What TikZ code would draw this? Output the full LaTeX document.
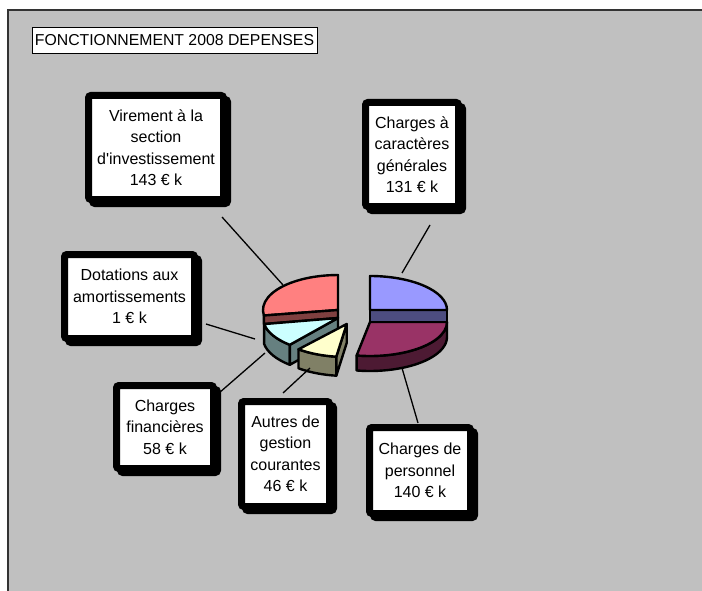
\documentclass[tikz,border=0pt]{standalone}
\usepackage{fontspec}
\setmainfont{Liberation Sans}
\newfontfamily\lbfont{Liberation Sans}
\usetikzlibrary{shadows}
\definecolor{bggray}{HTML}{C0C0C0}
\definecolor{redtop}{HTML}{FF8080}
\definecolor{redside}{HTML}{804040}
\definecolor{cyantop}{HTML}{CCFFFF}
\definecolor{cyanside}{HTML}{668080}
\definecolor{yeltop}{HTML}{FFFFCC}
\definecolor{yelside}{HTML}{808066}
\definecolor{bluetop}{HTML}{9999FF}
\definecolor{blueside}{HTML}{4D4D80}
\definecolor{purtop}{HTML}{993366}
\definecolor{purside}{HTML}{4D1A33}
\begin{document}
\begin{tikzpicture}[x=1bp,y=-1bp,
  lbl/.style={draw=black, line width=7bp, fill=white, rounded corners=2.5bp,
    align=center, inner sep=0pt, font=\lbfont\fontsize{16bp}{21.5bp}\selectfont,
    general shadow={shadow xshift=4bp, shadow yshift=-4bp, fill=black, draw=black, line width=7bp}},
  face/.style={draw=black, line width=2.4bp, line join=round},
  leader/.style={draw=black, line width=1.3bp},
]
\useasboundingbox (0,0) rectangle (702,591);
% background and frame
\fill[white] (-10,-10) rectangle (712,601);
\fill[bggray] (8,10) rectangle (712,601);
\draw[black!80, line width=1.2bp] (8,601) -- (8,10) -- (712,10);

% title
\node[draw=black, line width=0.8bp, fill=white, minimum width=285bp, minimum height=26bp,
  inner sep=0pt, font=\lbfont\fontsize{15.8bp}{18bp}\selectfont] (title) at (174.5,40) {FONCTIONNEMENT 2008 DEPENSES};

% ---- pie, left group ----
% Virement (red)
\path[face, fill=redtop] (338,310) -- (263.9,315.5) arc[start angle=171, end angle=270, x radius=75, y radius=35] -- cycle;
\path[face, fill=redside] (338,310) -- (263.9,315.5) -- (263.9,324) -- (338,318) -- cycle;
% Charges financieres (cyan)
\path[face, fill=cyanside] (289.8,344.8) arc[start angle=130, end angle=170, x radius=75, y radius=35] -- ++(0,20) arc[start angle=170, end angle=130, x radius=75, y radius=35] -- cycle;
\path[face, fill=cyanside] (338,318) -- (289.8,344.8) -- ++(0,20) -- (338,338) -- cycle;
\path[face, fill=cyantop] (338,318) -- (289.8,344.8) arc[start angle=130, end angle=170, x radius=75, y radius=35] -- cycle;
% Autres (yellow)
\path[face, fill=yelside] (298.5,349.3) arc[start angle=130, end angle=98, x radius=75, y radius=33] -- ++(0,19) arc[start angle=98, end angle=130, x radius=75, y radius=33] -- cycle;
\path[face, fill=yelside] (346.7,324) -- (336.3,356.7) -- ++(0,19) -- (346.7,343) -- cycle;
\path[face, fill=yeltop] (346.7,324) -- (298.5,349.3) arc[start angle=130, end angle=98, x radius=75, y radius=33] -- cycle;

% ---- pie, right group ----
\path[face, fill=purside] (447,322) arc[start angle=0, end angle=100, x radius=77, y radius=34] -- ++(0,15) arc[start angle=100, end angle=0, x radius=77, y radius=34] -- cycle;
\path[face, fill=purtop] (370,322) -- (447,322) arc[start angle=0, end angle=100, x radius=77, y radius=34] -- cycle;
\path[face, fill=blueside] (370,310) rectangle (447,322);
\path[face, fill=bluetop] (370,310) -- (370,276) arc[start angle=-90, end angle=0, x radius=77, y radius=34] -- cycle;

% ---- labels ----
\node[lbl, minimum width=135bp, minimum height=104bp] (vir) at (156,147.5) {Virement à la\\section\\d'investissement\\143 € k};
\node[lbl, minimum width=93bp, minimum height=104bp] (cag) at (412,154.5) {Charges à\\caractères\\générales\\131 € k};
\node[lbl, minimum width=130bp, minimum height=84bp] (dot) at (129.5,296.5) {Dotations aux\\amortissements\\1 € k};
\node[lbl, minimum width=97bp, minimum height=83bp] (cfi) at (165,427) {Charges\\financières\\58 € k};
\node[lbl, minimum width=88bp, minimum height=105bp] (aut) at (285.5,454) {Autres de\\gestion\\courantes\\46 € k};
\node[lbl, minimum width=101bp, minimum height=86bp] (cpe) at (420,470.5) {Charges de\\personnel\\140 € k};

% ---- leader lines ----
\coordinate (virA) at (222,217); \coordinate (virB) at (283,285);
\coordinate (cagA) at (430,225); \coordinate (cagB) at (402,273);
\coordinate (cpeA) at (402,368); \coordinate (cpeB) at (418,423);
\coordinate (dotA) at (206,324); \coordinate (dotB) at (255,339);
\coordinate (cfiA) at (265,353); \coordinate (cfiB) at (219,393);
\coordinate (autA) at (310,368); \coordinate (autB) at (283,393);
\draw[leader] (virA) -- (virB);
\draw[leader] (cagA) -- (cagB);
\draw[leader] (cpeA) -- (cpeB);
\draw[leader] (dotA) -- (dotB);
\draw[leader] (cfiA) -- (cfiB);
\draw[leader] (autA) -- (autB);
\end{tikzpicture}
\end{document}
